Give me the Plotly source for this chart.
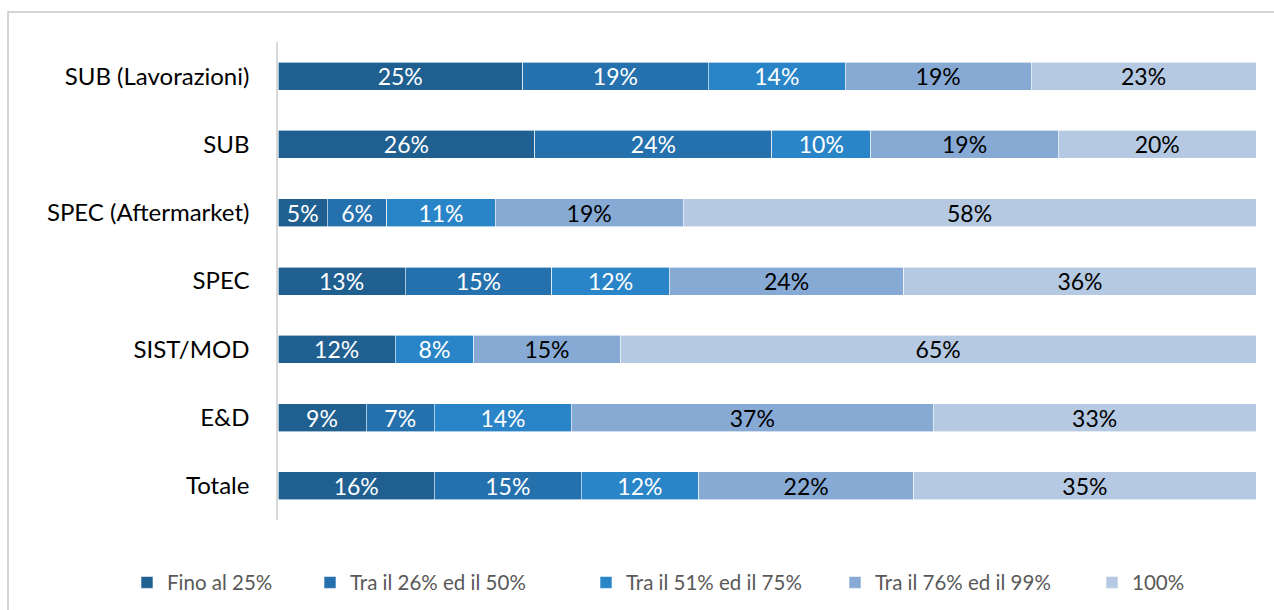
import plotly.graph_objects as go

categories = ["SUB (Lavorazioni)", "SUB", "SPEC (Aftermarket)", "SPEC", "SIST/MOD", "E&D", "Totale"]
series_names = ["Fino al 25%", "Tra il 26% ed il 50%", "Tra il 51% ed il 75%", "Tra il 76% ed il 99%", "100%"]

fino_25 = [25, 26, 5, 13, 12, 9, 16]
tra_26_50 = [19, 24, 6, 15, 0, 7, 15]
tra_51_75 = [14, 10, 11, 12, 8, 14, 12]
tra_76_99 = [19, 19, 19, 24, 15, 37, 22]
pieno_100 = [23, 20, 58, 36, 65, 33, 35]

series_values = [fino_25, tra_26_50, tra_51_75, tra_76_99, pieno_100]
colors = ["#1f6091", "#2471ae", "#2985c7", "#87aad4", "#b5c9e2"]
text_colors = ["white", "white", "white", "black", "black"]

# left edge (px) of each legend entry along the bottom row
legend_left_px = [127, 310, 586, 835, 1092]

FONT = "Lato"
W, H = 1274, 610

fig = go.Figure()
for i, (name, vals, col, tcol) in enumerate(zip(series_names, series_values, colors, text_colors)):
    fig.add_trace(go.Bar(
        y=categories,
        x=vals,
        name=name,
        orientation="h",
        marker=dict(color=col, line=dict(width=0.6, color="white")),
        text=[f"{v}%" if v else "" for v in vals],
        textposition="inside",
        insidetextanchor="middle",
        textangle=0,
        textfont=dict(family=FONT, size=23, color=tcol),
        hoverinfo="skip",
        legend="legend" if i == 0 else f"legend{i + 1}",
    ))

legend_style = dict(
    orientation="h",
    xref="container",
    yref="container",
    xanchor="left",
    yanchor="middle",
    y=0.045,
    font=dict(family=FONT, size=20.5, color="#595959"),
    bgcolor="rgba(0,0,0,0)",
    itemwidth=30,
)
legends = {}
for i, left in enumerate(legend_left_px):
    key = "legend" if i == 0 else f"legend{i + 1}"
    legends[key] = dict(legend_style, x=left / W)

fig.update_layout(
    barmode="stack",
    barnorm="percent",
    bargap=0.59,
    width=W,
    height=H,
    margin=dict(l=278, r=18, t=42, b=90),
    paper_bgcolor="white",
    plot_bgcolor="white",
    font=dict(family=FONT, size=23, color="#000000"),
    uniformtext=dict(minsize=23, mode="show"),
    xaxis=dict(range=[0, 100], visible=False, fixedrange=True),
    yaxis=dict(
        categoryorder="array",
        categoryarray=categories[::-1],
        showline=True,
        linecolor="#d9d9d9",
        linewidth=1.5,
        ticks="",
        ticklabelstandoff=22,
        tickfont=dict(family=FONT, size=24, color="#000000"),
        showgrid=False,
    ),
    showlegend=True,
    shapes=[dict(
        type="rect", xref="paper", yref="paper",
        x0=(8 - 278) / 978, x1=1.2, y0=-0.3, y1=(520 - 12) / 478,
        line=dict(color="#c8c8c8", width=1.5), fillcolor="rgba(0,0,0,0)",
        layer="below",
    )],
    **legends,
)

fig.write_html("out.html")
